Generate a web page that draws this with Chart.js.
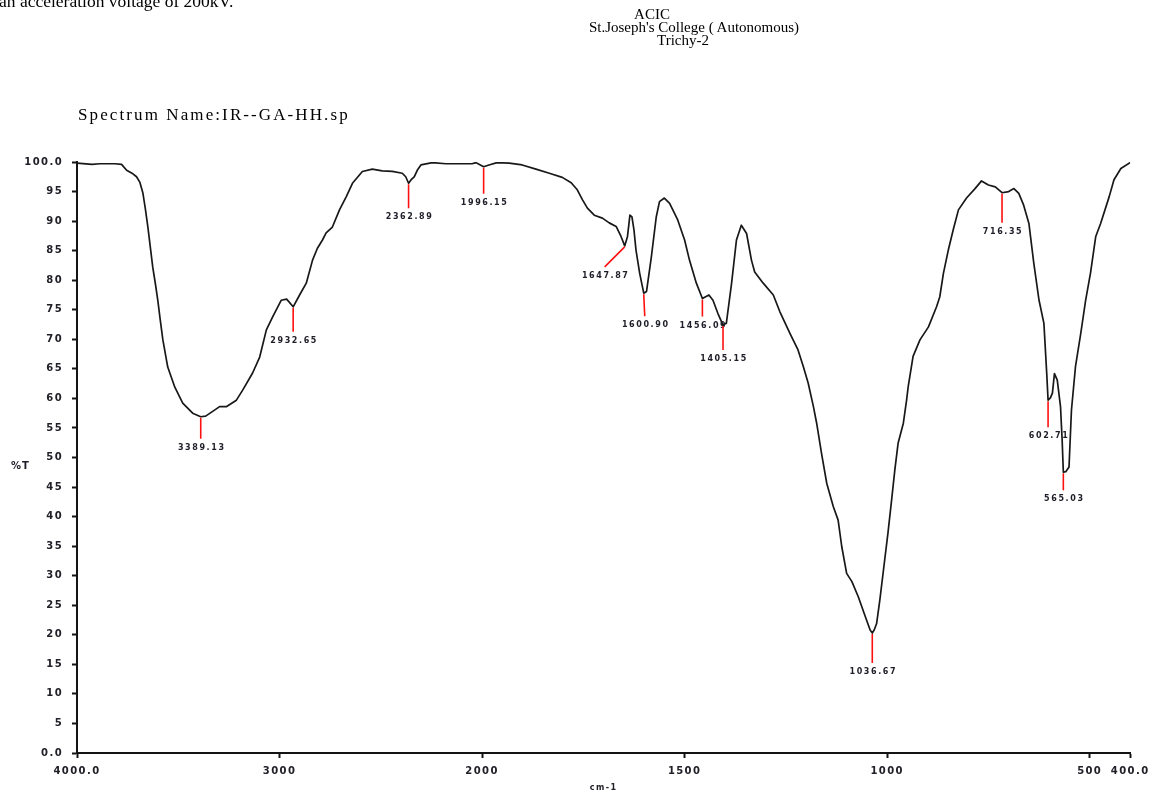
<!DOCTYPE html>
<html>
<head>
<meta charset="utf-8">
<title>IR spectrum – IR--GA-HH.sp</title>
<script src="https://cdn.jsdelivr.net/npm/chart.js@4.4.1/dist/chart.umd.min.js"></script>
<style>
  html, body { margin: 0; padding: 0; background: #fff; }
  #page { position: relative; width: 1153px; height: 793px; overflow: hidden; background: #fff; }
  #chartBox { position: absolute; left: 0; top: 0; width: 1153px; height: 793px; }
  .txt { position: absolute; white-space: nowrap; color: #000; font-family: "Liberation Serif", "DejaVu Serif", serif; }
  .doc { font-size: 17.5px; line-height: 20px; left: -1px; top: -9px; }
  .hdr { font-size: 15px; line-height: 15px; transform: translateX(-50%); }
  .spec { font-size: 17px; line-height: 18px; left: 78px; top: 106px; letter-spacing: 2.1px; }
</style>
</head>
<body>
<div id="page">
  <div id="chartBox"><canvas id="ir"></canvas></div>
  <div class="txt doc">an acceleration voltage of 200kV.</div>
  <div class="txt hdr" style="left:652px; top:7px;">ACIC</div>
  <div class="txt hdr" style="left:694px; top:20px;">St.Joseph's College ( Autonomous)</div>
  <div class="txt hdr" style="left:683px; top:33px;">Trichy-2</div>
  <div class="txt spec">Spectrum Name:IR--GA-HH.sp</div>
</div>
<script>
// Wavenumber (cm-1) and transmittance (%T) of the recorded spectrum
const wavenumbers = [
  4000, 3926, 3887, 3813, 3780, 3755, 3724, 3706, 3690, 3675,
  3663, 3650, 3638, 3626, 3613, 3601, 3589, 3576, 3552, 3517,
  3478, 3429, 3389.13, 3365, 3330, 3296, 3263, 3213, 3182, 3133,
  3098, 3065, 3034, 2992, 2965, 2932.65, 2901, 2868, 2837, 2813,
  2788, 2770, 2739, 2704, 2671, 2640, 2591, 2542, 2493, 2443,
  2394, 2377, 2362.89, 2350, 2335, 2320, 2302, 2246, 2179, 2113,
  2049, 2031, 1996.15, 1983, 1963, 1933, 1901, 1867, 1834, 1802,
  1780, 1765, 1752, 1740, 1723, 1703, 1686, 1669, 1657, 1647.87,
  1641, 1635, 1630, 1625, 1620, 1611, 1600.90, 1594, 1582, 1570,
  1562, 1550, 1537, 1517, 1500, 1488, 1471, 1456.09, 1440, 1430,
  1418, 1405.15, 1397, 1384, 1372, 1360, 1347, 1335, 1327, 1306,
  1281, 1265, 1240, 1220, 1207, 1195, 1182, 1174, 1162, 1149,
  1133, 1121, 1112, 1100, 1087, 1071, 1054, 1042, 1036.67, 1032,
  1026, 1018, 1006, 998, 989, 981, 973, 960, 952, 948,
  936, 919, 898, 878, 870, 861, 849, 837, 824, 804,
  783, 767, 750, 733, 716.35, 700, 687, 675, 663, 650,
  638, 625, 613, 606, 602.71, 597, 592, 587, 580, 572,
  568, 565.03, 559, 551, 545, 535, 522, 510, 498, 485,
  473, 452, 440, 423, 400
];
const transmittance = [
  99.8, 99.6, 99.7, 99.7, 99.6, 98.6, 98.0, 97.5, 96.6, 94.8,
  92.2, 89.0, 85.6, 82.2, 79.4, 76.6, 73.3, 69.9, 65.3, 61.9,
  59.2, 57.5, 56.9, 57.0, 57.8, 58.6, 58.6, 59.7, 61.4, 64.3,
  67.0, 71.6, 73.8, 76.6, 76.8, 75.5, 77.5, 79.5, 83.4, 85.4,
  86.8, 88.0, 89.0, 91.9, 94.1, 96.4, 98.4, 98.8, 98.5, 98.4,
  98.1, 97.5, 96.4, 97.0, 97.5, 98.6, 99.5, 99.9, 99.7, 99.7,
  99.7, 99.9, 99.2, 99.5, 99.9, 99.8, 99.5, 98.8, 98.1, 97.4,
  96.5, 95.3, 93.6, 92.2, 91.0, 90.5, 89.7, 89.1, 87.4, 85.8,
  87.4, 91.0, 90.7, 88.5, 85.1, 81.2, 77.8, 78.1, 84.0, 90.7,
  93.3, 93.9, 93.0, 90.2, 86.8, 83.4, 79.5, 76.9, 77.5, 76.6,
  74.4, 72.4, 72.7, 79.5, 86.8, 89.3, 87.9, 83.4, 81.4, 79.5,
  77.5, 74.7, 71.0, 68.2, 65.4, 62.6, 58.6, 55.8, 50.7, 45.6,
  41.7, 39.4, 34.9, 30.4, 29.0, 26.4, 23.1, 20.8, 20.3, 20.8,
  21.9, 25.9, 32.7, 37.2, 42.8, 47.9, 52.4, 55.8, 59.7, 62.0,
  67.1, 69.9, 72.1, 75.5, 77.2, 81.2, 85.1, 88.5, 91.9, 93.9,
  95.5, 96.8, 96.1, 95.8, 94.8, 95.0, 95.5, 94.7, 92.7, 89.6,
  82.9, 76.6, 72.7, 64.2, 59.7, 60.1, 60.9, 64.2, 63.1, 58.6,
  53.0, 47.5, 47.6, 48.4, 58.0, 65.4, 71.0, 76.6, 81.2, 87.4,
  89.6, 94.1, 97.0, 98.9, 99.9
];

// Picked peaks
const peakWavenumbers = [3389.13, 2932.65, 2362.89, 1996.15, 1647.87, 1600.90, 1456.09, 1405.15, 1036.67, 716.35, 602.71, 565.03];
const peakTransmittance = [56.9, 75.5, 96.4, 99.2, 85.8, 77.8, 76.9, 72.4, 20.3, 94.8, 59.7, 47.5];

// Axis ticks
const xTickValues = [4000, 3000, 2000, 1500, 1000, 500, 400];
const yTickStep = 5;

// Leader line offsets (px) for each peak label, in the same order as the peaks
const leaderOffsets = [
  [0, 22], [0, 25], [0, 25], [0, 27], [-20, 21], [1, 23],
  [0, 18], [0, 25], [0, 30], [0, 30], [0, 27], [0, 18]
];

// Wavenumber axis with the usual 2x expansion below 2000 cm-1
const X_HIGH = 4000, X_SPLIT = 2000, X_LOW = 400;
function axisUnits(v) {
  return v >= X_SPLIT ? (X_HIGH - v) : (X_HIGH - X_SPLIT) + 2 * (X_SPLIT - v);
}
class SplitWavenumberScale extends Chart.LinearScale {
  getPixelForValue(value) {
    const total = axisUnits(X_LOW);
    return this.left + this.width * axisUnits(value) / total;
  }
  getValueForPixel(pixel) {
    const u = (pixel - this.left) / this.width * axisUnits(X_LOW);
    const hi = X_HIGH - X_SPLIT;
    return u <= hi ? X_HIGH - u : X_SPLIT - (u - hi) / 2;
  }
  buildTicks() {
    return xTickValues.map(v => ({ value: v }));
  }
}
SplitWavenumberScale.id = 'splitWavenumber';
SplitWavenumberScale.defaults = {};
Chart.register(SplitWavenumberScale);

const AXIS_COLOR = '#141414';
const TICK_FONT = { family: 'DejaVu Sans', size: 10, weight: 'bold' };

// Wider letter spacing for the instrument-style lettering
const spacingPlugin = {
  id: 'letterSpacing',
  beforeDraw(chart) { chart.ctx.letterSpacing = '1.4px'; },
  afterDraw(chart) { chart.ctx.letterSpacing = '0px'; }
};

// Red peak markers with their wavenumber labels, plus the %T axis caption
const peakPlugin = {
  id: 'peakMarkers',
  afterDatasetsDraw(chart) {
    const { ctx, scales: { x, y } } = chart;
    ctx.save();
    ctx.strokeStyle = '#ff1010';
    ctx.lineWidth = 1.6;
    ctx.fillStyle = '#1e1e28';
    ctx.font = 'bold 8px "DejaVu Sans"';
    ctx.letterSpacing = '1.6px';
    ctx.textAlign = 'center';
    ctx.textBaseline = 'middle';
    peakWavenumbers.forEach((wn, i) => {
      const px = x.getPixelForValue(wn);
      const py = y.getPixelForValue(peakTransmittance[i]);
      const [dx, dy] = leaderOffsets[i];
      ctx.beginPath();
      ctx.moveTo(px, py + 1);
      ctx.lineTo(px + dx, py + dy);
      ctx.stroke();
      ctx.fillText(wn.toFixed(2), px + dx + 1, py + dy + 9);
    });
    ctx.restore();
  },
  afterDraw(chart) {
    const { ctx, scales: { y } } = chart;
    ctx.save();
    ctx.fillStyle = '#1e1e28';
    ctx.font = 'bold 10px "DejaVu Sans"';
    ctx.letterSpacing = '1px';
    ctx.textAlign = 'left';
    ctx.textBaseline = 'middle';
    ctx.fillText('%T', 11, y.getPixelForValue(48.5));
    ctx.restore();
  }
};

new Chart(document.getElementById('ir'), {
  type: 'line',
  data: {
    datasets: [{
      label: 'IR--GA-HH.sp',
      data: wavenumbers.map((wn, i) => ({ x: wn, y: transmittance[i] })),
      borderColor: '#181818',
      borderWidth: 1.7,
      borderJoinStyle: 'round',
      pointRadius: 0,
      tension: 0,
      fill: false
    }]
  },
  options: {
    responsive: true,
    maintainAspectRatio: false,
    animation: false,
    devicePixelRatio: 1,
    layout: { padding: { left: 0, right: 21, top: 162, bottom: 0 } },
    plugins: { legend: { display: false }, tooltip: { enabled: false }, title: { display: false } },
    scales: {
      x: {
        type: 'splitWavenumber',
        position: 'bottom',
        min: X_LOW,
        max: X_HIGH,
        afterFit(scale) { scale.height = 40; },
        border: { display: true, color: AXIS_COLOR, width: 2 },
        grid: { display: true, drawOnChartArea: false, drawTicks: true, tickLength: 5, tickColor: AXIS_COLOR, tickWidth: 2 },
        ticks: {
          autoSkip: false, maxRotation: 0, minRotation: 0, padding: 7,
          color: '#202028', font: TICK_FONT,
          callback: v => (v === X_HIGH || v === X_LOW) ? v.toFixed(1) : String(v)
        },
        title: {
          display: true, text: 'cm-1', color: '#202028',
          font: { family: 'DejaVu Sans', size: 8, weight: 'bold' },
          padding: { top: 0, bottom: 0 }
        }
      },
      y: {
        type: 'linear',
        position: 'left',
        min: 0,
        max: 100,
        afterFit(scale) { scale.width = 77; },
        border: { display: true, color: AXIS_COLOR, width: 2 },
        grid: { display: true, drawOnChartArea: false, drawTicks: true, tickLength: 5, tickColor: AXIS_COLOR, tickWidth: 2 },
        ticks: {
          stepSize: yTickStep, autoSkip: false, padding: 9,
          color: '#202028', font: TICK_FONT,
          callback: v => (v === 100 || v === 0) ? v.toFixed(1) : String(v)
        }
      }
    }
  },
  plugins: [spacingPlugin, peakPlugin]
});
</script>
</body>
</html>
